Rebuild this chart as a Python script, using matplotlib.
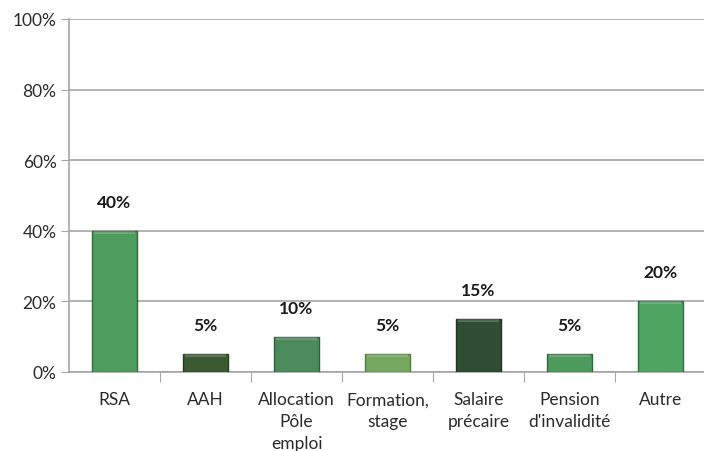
import matplotlib
matplotlib.use("Agg")
import matplotlib.pyplot as plt
from matplotlib.ticker import FuncFormatter

categories = ["RSA", "AAH", "Allocation\nPôle\nemploi", "Formation,\nstage",
              "Salaire\nprécaire", "Pension\nd'invalidité", "Autre"]
values = [40, 5, 10, 5, 15, 5, 20]
colors = ["#4e9d5f", "#3c5a32", "#4b8a5a", "#74a85e", "#2f4d32", "#4c9a5c", "#4fa462"]
edges = ["#2f6b3b", "#28401f", "#2f5e3a", "#4f7d3d", "#1e3320", "#2f6b3b", "#2f6e3d"]

plt.rcParams["font.family"] = ["Lato", "DejaVu Sans"]

fig = plt.figure(figsize=(7.04, 4.52), dpi=100)
ax = fig.add_axes([69 / 704, 1 - 373 / 452, (706 - 69) / 704, (373 - 20) / 452])

x = list(range(len(categories)))
bars = ax.bar(x, values, width=0.5, color=colors, edgecolor=edges, linewidth=1.0, zorder=3)

# light top strip to hint at the bevel
for b in bars:
    ax.bar(b.get_x() + b.get_width() / 2, 0.8, bottom=b.get_height() - 0.8,
           width=b.get_width() * 0.92, color="white", alpha=0.18, zorder=4, linewidth=0)

for xi, v in zip(x, values):
    ax.text(xi, v + 6.0, f"{v}%", ha="center", va="bottom", fontsize=12.5,
            fontweight="bold", color="#1a1a1a")

ax.set_xlim(-0.5, len(categories) - 0.5)
ax.set_ylim(0, 100)
ax.set_yticks(range(0, 101, 20))
ax.yaxis.set_major_formatter(FuncFormatter(lambda v, p: f"{int(v)}%"))
ax.set_xticks([i + 0.5 for i in range(len(categories) - 1)], minor=False)
ax.set_xticklabels([])
ax.set_xticks(x, minor=True)
ax.set_xticklabels(categories, minor=True, fontsize=12.5, color="#2b2b2b", linespacing=1.45)
ax.tick_params(axis="x", which="minor", length=0, pad=14)
ax.tick_params(axis="x", which="major", length=7, color="#a6a6a6", direction="out")
ax.tick_params(axis="y", length=6, color="#a6a6a6", labelsize=12.5, labelcolor="#2b2b2b", pad=3)

ax.grid(axis="y", color="#a6a6a6", linewidth=1.2, zorder=0)
for s in ["top", "right"]:
    ax.spines[s].set_visible(False)
ax.spines["left"].set_color("#a6a6a6")
ax.spines["left"].set_linewidth(1.2)
ax.spines["bottom"].set_color("#a6a6a6")
ax.spines["bottom"].set_linewidth(1.2)

fig.savefig("out.png", dpi=100)
